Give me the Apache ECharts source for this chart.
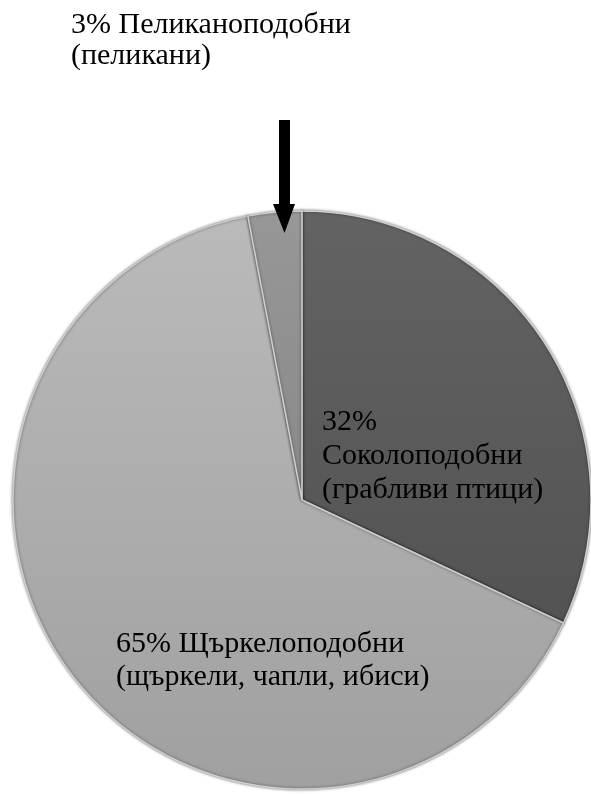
<!DOCTYPE html>
<html>
<head>
<meta charset="utf-8">
<script src="https://cdn.jsdelivr.net/npm/echarts@6/dist/echarts.min.js"></script>
<style>
html, body { margin: 0; padding: 0; background: #ffffff; }
#chart { width: 591px; height: 794px; }
</style>
</head>
<body>
<div id="chart"></div>
<script>
// ---- data ----
const categories = ['Соколоподобни', 'Щъркелоподобни', 'Пеликаноподобни'];
const groups = ['(грабливи птици)', '(щъркели, чапли, ибиси)', '(пеликани)'];
const values = [32, 65, 3];

// ---- styling (kept apart from data) ----
const sliceColors = [
  ['#636363', '#535353'],
  ['#bababa', '#a0a0a0'],
  ['#979797', '#898989']
];
const labelPos = [[322, 405], [116, 628], [71, 10]];
const labelLineHeight = [34, 33, 31];
const percentBreak = ['\n', ' ', ' '];

const chart = echarts.init(document.getElementById('chart'), null, { renderer: 'canvas' });

const data = values.map((v, i) => ({
  value: v,
  name: categories[i],
  itemStyle: {
    color: new echarts.graphic.LinearGradient(0, 0, 0, 1, [
      { offset: 0, color: sliceColors[i][0] },
      { offset: 1, color: sliceColors[i][1] }
    ])
  },
  label: { lineHeight: labelLineHeight[i] }
}));

chart.setOption({
  animation: false,
  backgroundColor: '#ffffff',
  series: [{
    type: 'pie',
    center: [302, 500],
    radius: 289,
    startAngle: 90,
    clockwise: true,
    silent: true,
    data: data,
    itemStyle: {
      borderColor: '#cfcfcf',
      borderWidth: 1.5,
      shadowColor: 'rgba(0,0,0,0.5)',
      shadowBlur: 3
    },
    label: {
      show: true,
      position: 'inside',
      color: '#000',
      fontFamily: 'Liberation Serif',
      fontSize: 30,
      formatter: p => p.value + '%' + percentBreak[p.dataIndex] + p.name + '\n' + groups[p.dataIndex]
    },
    labelLine: { show: false },
    labelLayout: p => ({
      x: labelPos[p.dataIndex][0],
      y: labelPos[p.dataIndex][1],
      align: 'left',
      verticalAlign: 'top',
      hideOverlap: false
    })
  }],
  graphic: [{
    type: 'polygon',
    z: 100,
    shape: {
      points: [[279, 120], [290, 120], [290, 204], [295, 204], [284.5, 233], [273, 204], [279, 204]]
    },
    style: { fill: '#000' }
  }]
});
</script>
</body>
</html>
